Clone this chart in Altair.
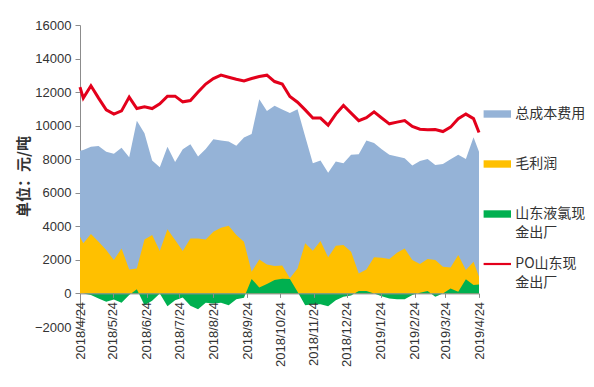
import altair as alt
import pandas as pd

# ---------------- data ----------------
dates = [
    "2018/04/24", "2018/04/27", "2018/05/04", "2018/05/11", "2018/05/18", "2018/05/25",
    "2018/06/01", "2018/06/08", "2018/06/15", "2018/06/22", "2018/06/29",
    "2018/07/06", "2018/07/13", "2018/07/20", "2018/07/27",
    "2018/08/03", "2018/08/10", "2018/08/17", "2018/08/24", "2018/08/31",
    "2018/09/07", "2018/09/14", "2018/09/21", "2018/09/28",
    "2018/10/05", "2018/10/12", "2018/10/19", "2018/10/26",
    "2018/11/02", "2018/11/09", "2018/11/16", "2018/11/23", "2018/11/30",
    "2018/12/07", "2018/12/14", "2018/12/21", "2018/12/28",
    "2019/01/04", "2019/01/11", "2019/01/18", "2019/01/25",
    "2019/02/01", "2019/02/08", "2019/02/15", "2019/02/22",
    "2019/03/01", "2019/03/08", "2019/03/15", "2019/03/22", "2019/03/29",
    "2019/04/05", "2019/04/12", "2019/04/19", "2019/04/24",
]

po_price = [
    12300, 11640, 12380, 11640, 10940, 10690, 10880, 11700, 11020, 11120, 11020,
    11300, 11760, 11760, 11420, 11500, 12000, 12480, 12810, 13010, 12890, 12770,
    12670, 12810, 12930, 13010, 12630, 12480, 11740, 11400, 10940, 10450, 10450,
    10030, 10690, 11200, 10750, 10300, 10480, 10820, 10460, 10110, 10210, 10300,
    9950, 9790, 9750, 9770, 9650, 9910, 10410, 10690, 10420, 9590,
]

total_cost = [
    8510, 8550, 8750, 8790, 8450, 8330, 8690, 8120, 10290, 9550, 7920,
    7520, 8750, 7840, 8600, 8890, 8160, 8610, 9190, 9110, 9050, 8810,
    9290, 9500, 11580, 10880, 11180, 10960, 10750, 10980, 9350, 7760, 7920,
    7200, 7860, 7760, 8260, 8300, 9110, 8960, 8600, 8260, 8160, 8060,
    7620, 7900, 8020, 7660, 7720, 8000, 8260, 8020, 9310, 8450,
]

gross_profit = [
    3380, 2985, 3540, 3080, 2585, 1990, 2685, 1430, 1490, 3220, 3480,
    2525, 3820, 3180, 2525, 3280, 3280, 3220, 3680, 3920, 4040, 3480,
    3080, 1290, 2030, 1730, 1630, 1670, 900, 1490, 2985, 2540, 3120,
    2150, 2840, 2880, 2485, 1190, 1430, 2150, 2125, 2050, 2425, 2685,
    1990, 1750, 2050, 1990, 1590, 1550, 2290, 1390, 1890, 990,
]

chlorine = [
    0, 0, -100, -300, -500, -360, -560, -100, 250, -700, -440,
    0, -760, -400, -240, -740, -940, -560, -600, -560, -700, -340,
    -260, 860, 360, 560, 800, 880, 860, 100, -700, -640, -640,
    -760, -400, -200, -120, 140, 140, 0, -160, -300, -340, -340,
    -100, 40, 140, -200, 0, 300, 100, 840, 500, 540,
]

series_names = ["总成本费用", "毛利润", "山东液氯现金出厂", "PO山东现金出厂"]
series_colors = ["#95B3D7", "#FFC000", "#00B050", "#E3001B"]
legend_shapes = [
    "M-1,-0.27H1V0.27H-1Z",
    "M-1,-0.27H1V0.27H-1Z",
    "M-1,-0.27H1V0.27H-1Z",
    "M-1,-0.08H1V0.08H-1Z",
]
y_ticks = [-2000, 0, 2000, 4000, 6000, 8000, 10000, 12000, 14000, 16000]
month_ticks = [(2018, 4), (2018, 5), (2018, 6), (2018, 7), (2018, 8), (2018, 9),
               (2018, 10), (2018, 11), (2018, 12), (2019, 1), (2019, 2), (2019, 3),
               (2019, 4)]

df = pd.DataFrame({
    "date": dates,
    series_names[0]: total_cost,
    series_names[1]: gross_profit,
    series_names[2]: chlorine,
    series_names[3]: po_price,
})

# ---------------- scales / axes ----------------
W, H = 399, 302
AXIS_GREY = "#8C8C8C"
TEXT = "#333333"

xscale = alt.Scale(domain=[alt.DateTime(year=2018, month=4, date=24),
                           alt.DateTime(year=2019, month=4, date=24)], nice=False)
yscale = alt.Scale(domain=[-2000, 16000], nice=False, zero=False)

xaxis = alt.Axis(
    values=[alt.DateTime(year=y, month=m, date=24) for y, m in month_ticks],
    format="%Y/%-m/%-d", labelAngle=270, labelFont="Liberation Sans", labelFontSize=13,
    labelColor=TEXT, tickColor=AXIS_GREY, domainColor=AXIS_GREY, tickSize=4,
    labelPadding=4, offset=-33.6, grid=False, title=None, zindex=1,
    labelOverlap=False, labelFlush=False,
)
yaxis = alt.Axis(
    values=y_ticks, format="d", labelFont="Liberation Sans", labelFontSize=13,
    labelColor=TEXT, tickColor=AXIS_GREY, domainColor=AXIS_GREY, tickSize=5,
    labelPadding=4, grid=False, title="单位：元/吨", titleFont="Noto Sans CJK SC",
    titleFontSize=15, titleFontWeight="bold", titleColor=TEXT, titlePadding=3,
)

base = alt.Chart(df)
X = alt.X("date:T", scale=xscale, axis=xaxis)


def area_layer(name, color):
    return base.mark_area(color=color, opacity=1, interpolate="linear").encode(
        x=X,
        y=alt.Y(field=name, type="quantitative", scale=yscale, axis=yaxis),
        y2=alt.datum(0),
    )


cost_area = area_layer(series_names[0], series_colors[0])
profit_area = area_layer(series_names[1], series_colors[1])
cl_area = area_layer(series_names[2], series_colors[2])

po_line = base.mark_line(color=series_colors[3], strokeWidth=3).encode(
    x=X,
    y=alt.Y(field=series_names[3], type="quantitative", scale=yscale, axis=yaxis),
)

# every legend label is two lines tall (single-line ones get an empty
# second line), so the rows are evenly spaced as in the original
label_expr = (
    "datum.label == '山东液氯现金出厂' ? ['山东液氯现', '金出厂'] : "
    "datum.label == 'PO山东现金出厂' ? ['PO山东现', '金出厂'] : [datum.label, '']"
)

legend = alt.Legend(
    title=None, orient="none", direction="vertical", legendX=403.3, legendY=75,
    labelFont="Noto Sans CJK SC", labelFontSize=14, labelColor=TEXT, labelOffset=4,
    symbolSize=750, symbolOpacity=1, symbolStrokeWidth=0, rowPadding=10, padding=0,
    labelBaseline="middle", labelLimit=200, labelExpr=label_expr,
)

legend_layer = base.transform_fold(series_names, as_=["series", "value"]).mark_point(
    filled=True, size=0, opacity=0
).encode(
    x=X,
    y=alt.Y("value:Q", scale=yscale, axis=yaxis),
    color=alt.Color("series:N", scale=alt.Scale(domain=series_names, range=series_colors),
                    legend=legend),
    shape=alt.Shape("series:N", scale=alt.Scale(domain=series_names, range=legend_shapes),
                    legend=legend),
)

chart = alt.layer(cost_area, profit_area, cl_area, po_line, legend_layer).properties(
    width=W, height=H,
    autosize=alt.AutoSizeParams(type="none"),
    padding={"left": 72, "top": 17, "right": 107, "bottom": 52},
    background="white",
).configure(
    style={"guide-label": {"lineHeight": 19}},
).configure_view(stroke=None)

chart.save("out.html", embed_options={"renderer": "svg", "actions": False})
